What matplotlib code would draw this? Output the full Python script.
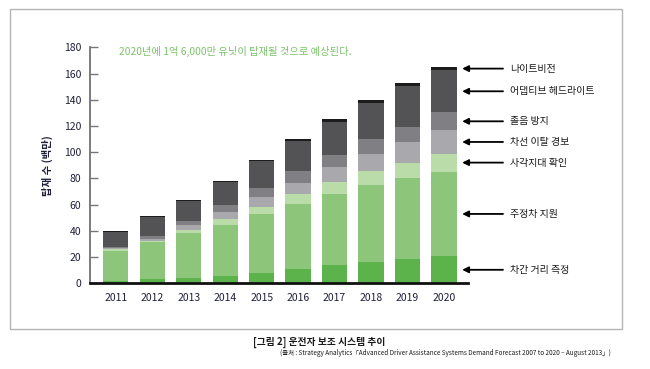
import numpy as np
import matplotlib
matplotlib.use("Agg")
from matplotlib import pyplot as plt
from matplotlib.patches import Rectangle

plt.rcParams['font.family'] = ['Noto Sans CJK KR', 'DejaVu Sans']

years = ['2011', '2012', '2013', '2014', '2015', '2016', '2017', '2018', '2019', '2020']

# segment values (millions), bottom to top
distance = [2.0, 3.6, 4.3, 5.3, 7.9, 11.0, 14.1, 16.5, 18.6, 20.6]       # 차간 거리 측정
parking = [22.4, 27.7, 33.8, 38.9, 44.7, 49.6, 54.0, 58.5, 61.4, 64.6]    # 주정차 지원
blindspot = [1.6, 1.2, 2.3, 4.6, 5.9, 7.3, 8.9, 10.4, 11.5, 13.7]         # 사각지대 확인
lane = [0.8, 1.3, 4.1, 5.9, 7.3, 8.9, 11.5, 13.2, 16.3, 17.8]             # 차선 이탈 경보
drowsy = [0.9, 2.6, 3.0, 4.8, 6.6, 8.7, 9.2, 11.4, 11.7, 13.7]            # 졸음 방지
headlight = [11.2, 14.2, 15.3, 17.5, 20.6, 22.8, 25.5, 27.5, 30.7, 32.1]  # 어댑티브 헤드라이트
night = [0.8, 0.7, 0.8, 0.8, 0.8, 2.0, 1.8, 2.3, 2.3, 2.5]                # 나이트비전

series = [distance, parking, blindspot, lane, drowsy, headlight, night]
labels = ['차간 거리 측정', '주정차 지원', '사각지대 확인', '차선 이탈 경보',
          '졸음 방지', '어댑티브 헤드라이트', '나이트비전']
colors = ['#5cb34b', '#8dc57b', '#badca9', '#a9a9ad', '#808084', '#535355', '#1c1c1c']

fig = plt.figure(figsize=(6.5, 3.69), dpi=100)

# light frame around the chart
fig.patches.append(Rectangle((9.5 / 650, 1 - 329 / 369), (622 - 9.5) / 650, (329 - 8.5) / 369,
                             transform=fig.transFigure, fill=False, edgecolor='#b4b4b4', lw=1))

ax = fig.add_axes([89.5 / 650, 1 - 283.3 / 369, (468 - 89.5) / 650, (283.3 - 47.3) / 369])

x = np.arange(len(years))
bottom = np.zeros(len(years))
for vals, c in zip(series, colors):
    ax.bar(x, vals, width=0.69, bottom=bottom, color=c, edgecolor='none')
    bottom = bottom + np.array(vals)

ax.set_xlim(-0.72, 9.66)
ax.set_ylim(0, 180)
ax.set_yticks(range(0, 181, 20))
ax.set_xticks(x)
ax.set_xticklabels(years)
ax.tick_params(axis='y', direction='in', length=6, width=1, color='#777777',
               labelsize=7.5, labelcolor='#1f1f3a', pad=6)
ax.tick_params(axis='x', length=0, labelsize=7.5, labelcolor='#1f1f3a', pad=7)
for s in ['top', 'right']:
    ax.spines[s].set_visible(False)
ax.spines['left'].set_color('#666666')
ax.spines['left'].set_linewidth(1.2)
ax.spines['bottom'].set_color('#111111')
ax.spines['bottom'].set_linewidth(2)

ax.set_ylabel('탑재 수 (백만)', fontsize=7.5, fontweight='bold', color='#1f1f3a', labelpad=8)

ax.text(0.1, 176.5, '2020년에 1억 6,000만 유닛이 탑재될 것으로 예상된다.', fontsize=7.4,
        color='#7cc26a', va='center', ha='left')

# arrows pointing to the 2020 segments
cum = 0
last = len(years) - 1
for vals, lab in zip(series, labels):
    mid = cum + vals[last] / 2
    cum += vals[last]
    ax.annotate('', xy=(9.5, mid), xytext=(10.62, mid), annotation_clip=False,
                arrowprops=dict(arrowstyle='-|>', color='black', lw=1.3, mutation_scale=9,
                                shrinkA=0, shrinkB=0))
    ax.text(10.82, mid, lab, fontsize=7.2, fontweight='medium', va='center', ha='left',
            color='#1a1a1a', clip_on=False)

fig.text(253 / 650, 1 - 342 / 369, '[그림 2] 운전자 보조 시스템 추이', fontsize=7,
         fontweight='bold', color='#1a1a1a', va='center', ha='left')
fig.text(280 / 650, 1 - 353 / 369,
         '(출처 : Strategy Analytics「Advanced Driver Assistance Systems Demand Forecast 2007 to 2020 – August 2013」)',
         fontsize=4.6, color='#1a1a1a', va='center', ha='left')

fig.savefig('out.png', dpi=100)
